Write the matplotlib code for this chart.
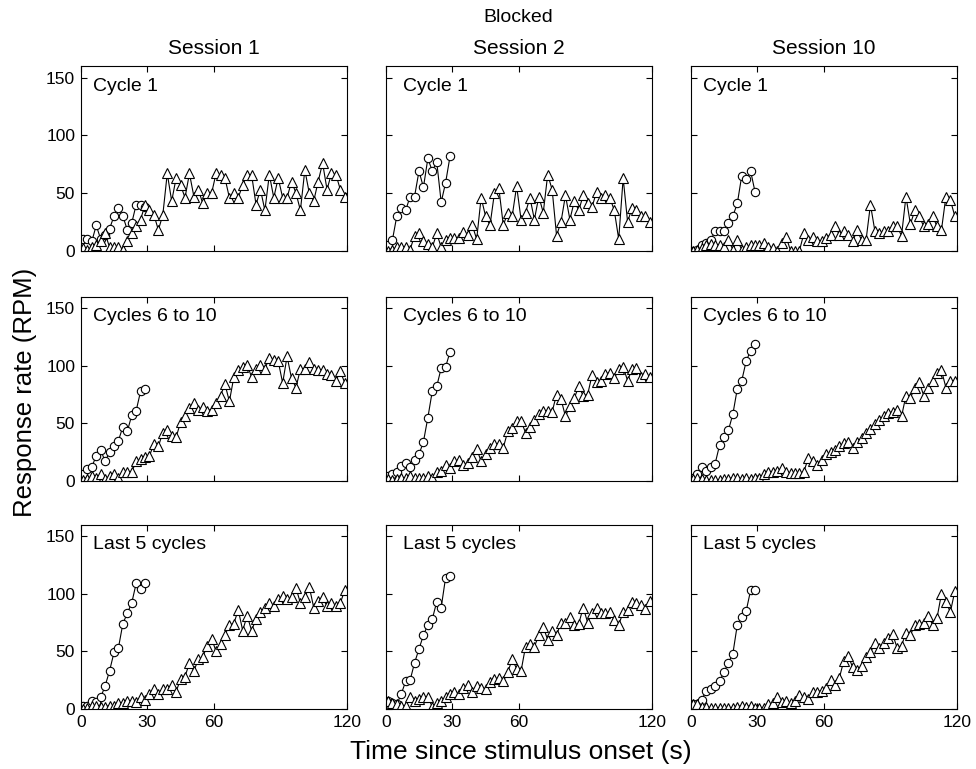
import numpy as np
import matplotlib
matplotlib.use("Agg")
import matplotlib.pyplot as plt

plt.rcParams['font.family'] = ['Liberation Sans', 'DejaVu Sans']

# time bins (s)
t_circ = np.arange(1, 30, 2)    # 15 bins, 0-30 s
t_tri = np.arange(1, 120, 2)    # 60 bins, 0-120 s

sessions = ["Session 1", "Session 2", "Session 10"]
row_labels = ["Cycle 1", "Cycles 6 to 10", "Last 5 cycles"]

# circles (short stimulus), rows = cycle groups, cols = sessions
circ_s1_c1 = [10, 10, 8, 22, 10, 14, 19, 30, 37, 30, 18, 24, 40, 40, 38]
circ_s2_c1 = [5, 9, 30, 37, 35, 47, 47, 69, 55, 80, 69, 77, 42, 59, 82]
circ_s10_c1 = [0, 1, 5, 7, 9, 17, 17, 17, 24, 30, 41, 65, 62, 69, 51]
circ_s1_c6 = [6, 10, 12, 22, 27, 17, 25, 30, 35, 47, 43, 57, 61, 78, 80]
circ_s2_c6 = [4, 6, 8, 13, 16, 12, 18, 23, 34, 55, 78, 82, 98, 99, 112]
circ_s10_c6 = [3, 6, 12, 9, 12, 15, 31, 38, 44, 58, 80, 87, 104, 113, 119]
circ_s1_l5 = [3, 3, 7, 6, 10, 20, 33, 49, 53, 74, 83, 92, 109, 104, 109]
circ_s2_l5 = [7, 5, 4, 13, 24, 25, 40, 52, 64, 73, 78, 93, 88, 114, 115]
circ_s10_l5 = [4, 4, 8, 16, 17, 20, 24, 32, 40, 48, 73, 80, 85, 103, 103]

# triangles (long stimulus)
tri_s1_c1 = [2, 1, 3, 5, 8, 15, 3, 3, 3, 1, 8, 15, 21, 27, 40, 35, 31, 18, 31, 67,
             43, 63, 57, 46, 67, 47, 53, 41, 50, 50, 67, 66, 63, 46, 50, 46, 57, 66, 66, 40,
             53, 35, 66, 46, 63, 46, 46, 60, 50, 35, 70, 50, 43, 60, 76, 53, 67, 66, 53, 47]
tri_s2_c1 = [0, 1, 3, 3, 3, 1, 13, 15, 8, 6, 3, 15, 3, 9, 11, 11, 11, 16, 14, 22,
             10, 46, 30, 22, 50, 54, 22, 33, 30, 56, 27, 33, 46, 27, 47, 33, 66, 53, 13, 25,
             48, 27, 43, 35, 48, 41, 38, 51, 46, 48, 46, 35, 10, 63, 25, 37, 35, 30, 30, 25]
tri_s10_c1 = [0, 1, 2, 5, 6, 5, 5, 3, 9, 1, 9, 1, 3, 5, 5, 5, 7, 3, 2, 0,
              7, 12, 0, 0, 0, 15, 9, 12, 8, 8, 11, 14, 21, 14, 17, 14, 8, 18, 9, 9,
              40, 17, 15, 17, 17, 21, 21, 13, 47, 23, 35, 30, 21, 23, 30, 21, 18, 47, 44, 30]
tri_s1_c6 = [1, 2, 4, 3, 6, 2, 4, 6, 3, 8, 8, 8, 17, 19, 21, 22, 32, 30, 42, 44,
             39, 38, 51, 56, 63, 68, 62, 64, 61, 62, 68, 74, 84, 69, 90, 96, 99, 101, 90, 97,
             101, 97, 107, 105, 104, 85, 108, 89, 81, 97, 97, 103, 97, 96, 96, 93, 92, 87, 95, 85]
tri_s2_c6 = [2, 1, 2, 3, 3, 4, 3, 3, 3, 4, 3, 8, 9, 14, 11, 17, 18, 14, 16, 21,
             28, 17, 23, 29, 32, 32, 29, 43, 46, 52, 52, 42, 47, 53, 58, 61, 61, 60, 75, 71,
             56, 65, 72, 82, 74, 75, 92, 86, 87, 93, 94, 89, 97, 99, 87, 97, 98, 90, 93, 90]
tri_s10_c6 = [2, 3, 2, 1, 1, 1, 1, 2, 2, 3, 3, 2, 3, 2, 3, 3, 6, 8, 8, 9,
              11, 8, 7, 7, 7, 8, 20, 17, 14, 18, 23, 25, 27, 30, 33, 34, 29, 34, 37, 42,
              45, 49, 53, 56, 59, 60, 62, 56, 74, 72, 81, 86, 74, 81, 87, 94, 96, 81, 87, 87]
tri_s1_l5 = [0, 1, 3, 3, 2, 2, 3, 3, 5, 5, 7, 7, 6, 10, 8, 13, 17, 13, 17, 17,
             21, 15, 26, 28, 40, 33, 43, 45, 55, 61, 50, 56, 64, 73, 74, 86, 68, 81, 68, 78,
             84, 88, 92, 89, 95, 98, 95, 97, 105, 92, 97, 106, 88, 94, 97, 89, 92, 89, 92, 103]
tri_s2_l5 = [7, 5, 4, 3, 3, 10, 7, 9, 10, 10, 2, 5, 7, 10, 13, 15, 13, 18, 21, 15,
             20, 18, 17, 23, 26, 27, 24, 32, 43, 35, 33, 54, 56, 54, 64, 71, 60, 68, 64, 75,
             75, 80, 73, 74, 88, 75, 83, 88, 83, 83, 84, 77, 73, 84, 86, 93, 92, 90, 87, 94]
tri_s10_l5 = [4, 4, 2, 2, 1, 1, 1, 1, 1, 1, 2, 3, 2, 3, 1, 1, 1, 4, 5, 10,
              6, 7, 5, 7, 12, 10, 9, 15, 15, 16, 18, 25, 21, 27, 42, 46, 36, 34, 37, 45,
              49, 57, 53, 57, 62, 65, 53, 55, 66, 64, 73, 74, 75, 81, 73, 79, 100, 93, 84, 102]

circ = [[circ_s1_c1, circ_s2_c1, circ_s10_c1],
        [circ_s1_c6, circ_s2_c6, circ_s10_c6],
        [circ_s1_l5, circ_s2_l5, circ_s10_l5]]
tri = [[tri_s1_c1, tri_s2_c1, tri_s10_c1],
       [tri_s1_c6, tri_s2_c6, tri_s10_c6],
       [tri_s1_l5, tri_s2_l5, tri_s10_l5]]

fig = plt.figure(figsize=(9.76, 7.69), dpi=100)

W, H = 976.0, 769.0
col_left = [80.7, 385.7, 690.7]
col_w = 266.3
row_bottom = [250.7, 481.0, 709.0]
row_h = 184.5
label_dx = [0.045, 0.065, 0.045]

for r in range(3):
    for c in range(3):
        ax = fig.add_axes([col_left[c] / W, 1 - row_bottom[r] / H, col_w / W, row_h / H])
        ax.plot(t_circ, circ[r][c], '-o', color='black', lw=0.8,
                ms=6, mfc='white', mec='black', mew=0.8)
        ax.plot(t_tri, tri[r][c], '-^', color='black', lw=0.8,
                ms=7, mfc='white', mec='black', mew=0.8)
        ax.set_xlim(0, 120)
        ax.set_ylim(0, 160)
        ax.set_xticks([0, 30, 60, 120])
        ax.set_yticks([0, 50, 100, 150])
        ax.tick_params(direction='in', top=True, right=True, length=4,
                       width=0.8, labelsize=12.5, pad=4)
        if c != 0:
            ax.set_yticklabels([])
        if r != 2:
            ax.set_xticklabels([])
        for sp in ax.spines.values():
            sp.set_linewidth(0.8)
        ax.text(label_dx[c], 0.935, row_labels[r], transform=ax.transAxes,
                fontsize=14, va='top', ha='left')
        if r == 0:
            ax.set_title(sessions[c], fontsize=15, pad=9)

fig.text(518 / W, 1 - 18 / H, "Blocked", fontsize=14, ha='center', va='center')
fig.text(25 / W, 1 - 392 / H, "Response rate (RPM)", fontsize=18.5,
         rotation=90, ha='center', va='center')
fig.text(521 / W, 1 - 752 / H, "Time since stimulus onset (s)", fontsize=19,
         ha='center', va='center')

fig.savefig("out.png", dpi=100)
